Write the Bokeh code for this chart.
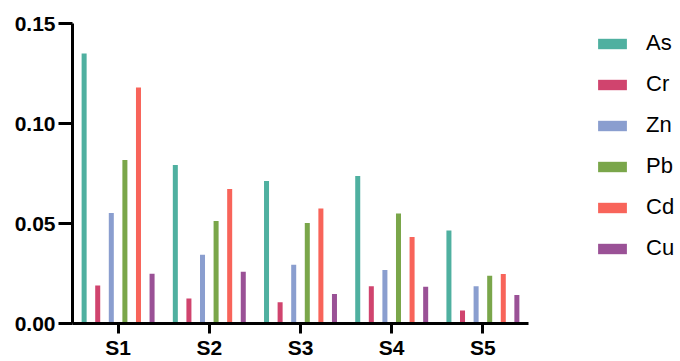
import numpy as np
from bokeh.plotting import figure
from bokeh.models import ColumnDataSource, Range1d, FixedTicker, PrintfTickFormatter, Legend, LegendItem
from bokeh.transform import dodge
from bokeh.embed import file_html
from bokeh.resources import INLINE

samples = ["S1", "S2", "S3", "S4", "S5"]
elements = ["As", "Cr", "Zn", "Pb", "Cd", "Cu"]
As = [0.135, 0.0792, 0.0713, 0.0737, 0.0465]
Cr = [0.019, 0.0125, 0.0106, 0.0186, 0.0065]
Zn = [0.0553, 0.0344, 0.0294, 0.0268, 0.0186]
Pb = [0.0817, 0.0513, 0.0503, 0.055, 0.0239]
Cd = [0.118, 0.0673, 0.0575, 0.0432, 0.0248]
Cu = [0.0249, 0.0259, 0.0148, 0.0184, 0.0143]
y_ticks = [0.0, 0.05, 0.10, 0.15]

colors = ["#4FB0A0", "#D0446E", "#8A9ECF", "#7AA64A", "#F8645A", "#9A5196"]

xpos = list(range(len(samples)))
source = ColumnDataSource(dict(x=xpos, As=As, Cr=Cr, Zn=Zn, Pb=Pb, Cd=Cd, Cu=Cu))

W, H = 676, 361
left, top, bottom = 72, 23, 37
px_per_cat = 91.2
x_end = -0.5 + (W - left) / px_per_cat

p = figure(x_range=Range1d(-0.5, x_end), y_range=Range1d(0, 0.15),
           width=W, height=H, output_backend="svg", toolbar_location=None,
           min_border_left=left, min_border_top=top, min_border_bottom=bottom, min_border_right=0)

step = 0.149
items = []
for i, (el, c) in enumerate(zip(elements, colors)):
    r = p.vbar(x=dodge("x", (i - 2.5) * step), top=el, width=0.055,
               source=source, fill_color=c, line_color=None)
    items.append(LegendItem(label=el, renderers=[r]))

p.grid.visible = False
p.outline_line_color = None
p.background_fill_color = "white"
p.border_fill_color = "white"

for ax in (p.xaxis[0], p.yaxis[0]):
    ax.axis_line_width = 3
    ax.axis_line_color = "black"
    ax.major_tick_line_width = 3
    ax.major_tick_line_color = "black"
    ax.major_tick_in = 0
    ax.minor_tick_line_color = None
    ax.major_label_text_font = "Liberation Sans"
    ax.major_label_text_font_style = "bold"
    ax.major_label_text_font_size = "21px"
    ax.major_label_text_color = "black"

p.xaxis.ticker = FixedTicker(ticks=xpos)
p.xaxis.major_label_overrides = {i: s for i, s in zip(xpos, samples)}
p.xaxis.bounds = (-0.5, len(samples) - 0.5)
p.yaxis.ticker = FixedTicker(ticks=y_ticks)
p.yaxis.formatter = PrintfTickFormatter(format="%.2f")
p.yaxis.major_tick_out = 14
p.yaxis.major_label_standoff = 3
p.xaxis.major_tick_out = 10
p.xaxis.major_label_standoff = 2

legend = Legend(items=items, location=(522, 62), glyph_width=36, glyph_height=13,
                label_height=13, spacing=15, label_standoff=16, padding=0, margin=0,
                border_line_color=None, background_fill_alpha=0,
                label_text_font="Liberation Sans", label_text_font_size="22px",
                label_text_color="black")
p.add_layout(legend, "center")

open("out.html", "w").write(file_html(p, INLINE))
